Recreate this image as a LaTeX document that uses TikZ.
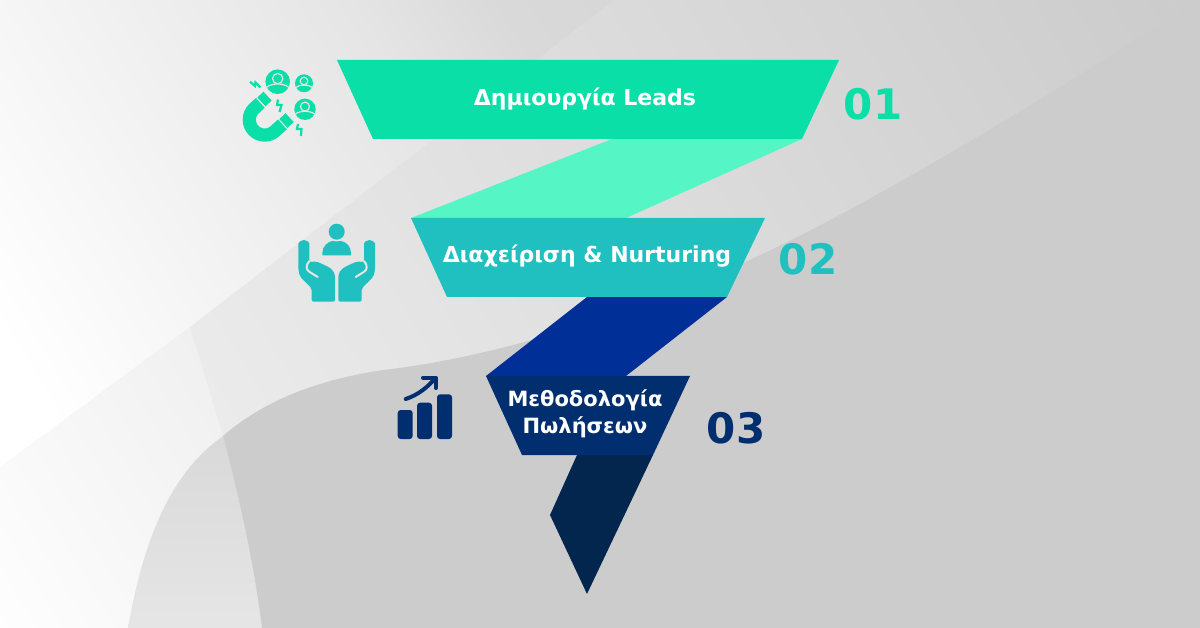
\documentclass[tikz,border=0pt]{standalone}
\usepackage{fontspec}
\setmainfont{DejaVu Sans}

\definecolor{leadgreen}{HTML}{0ADFA8}
\definecolor{leadlight}{HTML}{55F5C6}
\definecolor{careteal}{HTML}{20C0C0}
\definecolor{saleblue}{HTML}{003097}
\definecolor{salenavy}{HTML}{002E6E}
\definecolor{taildark}{HTML}{03264F}
\definecolor{gapgrey}{HTML}{E5E5E5}
\definecolor{bgone}{HTML}{E5E5E5}
\definecolor{bgtwo}{HTML}{D9D9D9}
\definecolor{bgthree}{HTML}{CCCCCC}

\pgfdeclarehorizontalshading{bgshade}{100bp}{color(0bp)=(white); color(25bp)=(white); color(44.5bp)=(bgone); color(49.9bp)=(bgtwo); color(75bp)=(bgthree); color(100bp)=(bgthree)}

\tikzset{
    bggrad/.style n args={3}{transform canvas={rotate=31},left color=#1,middle color=#2,right color=#3},
    steptext/.style={text=white,font=\bfseries\fontsize{22}{27}\selectfont,align=center},
    stepnum/.style={font=\bfseries\fontsize{42}{42}\selectfont},
    badge/.pic={
        \fill[leadgreen] (0,0) circle (1);
        \draw[gapgrey,line width=1.2pt] (0,-0.25) circle (0.42);
        \draw[gapgrey,line width=1.2pt] (-0.9,0.45) .. controls (-0.5,0.1) and (0.5,0.1) .. (0.9,0.45);
    },
    carehand/.pic={
        \fill[careteal,rounded corners=2pt] (-38.3,245.5) arc[start angle=180,end angle=360,radius=5.5]
            -- (-27.3,262) -- (-20,261.5) -- (-8,267) .. controls (-4,270) and (-1.7,273) .. (-1.7,278)
            -- (-1.7,301.7) -- (-25,301.7) -- (-25,288.3) -- (-36.7,276.7) -- (-38.3,270) -- cycle;
        \draw[gapgrey,line width=2pt,line cap=round] (-27.3,261) .. controls (-31,265) and (-31,270) .. (-27,272) -- (-19,277);
    },
}

\begin{document}
\begin{tikzpicture}[x=1pt,y=-1pt]
    \useasboundingbox (0,0) rectangle (1200,628);

    \coordinate (BandLeft) at (0,467);
    \coordinate (BandTop) at (614,0);
    \coordinate (WedgeTop) at (190,327);
    \coordinate (WedgeMid) at (223,436);
    \coordinate (WedgeEnd) at (262,628);
    \coordinate (CurveEnd) at (128,628);

    % Background
    \shade[transform canvas={rotate=31},shading=bgshade] (-170,-1500) rectangle (1030,1500);

    % Left of the wedge
    \begin{scope}
        \clip (BandLeft) -- (WedgeTop) -- (WedgeMid) -- (WedgeEnd) -- (0,628) -- cycle;
        \shade[transform canvas={rotate=31},left color=white,right color=black!6] (-350,-1500) rectangle (0,1500);
    \end{scope}

    % Right of the wedge
    \begin{scope}
        \clip (WedgeTop) -- (BandTop) -- (1200,0) -- (1200,628) -- (WedgeEnd) -- (WedgeMid) -- cycle;
        \shade[bggrad={black!7}{black!15}{black!20}] (-100,-1500) rectangle (1000,1500);
    \end{scope}

    % Below the curve, left part
    \shade[top color=black!15,bottom color=black!10] (WedgeMid) .. controls (240,500) and (255,570) .. (WedgeEnd)
        -- (CurveEnd) .. controls (145,530) and (175,470) .. (WedgeMid);

    % Below the curve, right part
    \fill[black!20] (WedgeMid) .. controls (270,395) and (330,378) .. (383,370)
        .. controls (500,357) and (640,310) .. (743,263)
        .. controls (850,215) and (1000,125) .. (1120,50)
        -- (1200,0) -- (1200,628) -- (WedgeEnd) .. controls (255,570) and (240,500) .. (WedgeMid);

    % Funnel
    \fill[leadlight] (612,139) -- (802,139) -- (626,218) -- (411,218) -- cycle;
    \fill[saleblue] (587,297) -- (727,297) -- (626,376) -- (486,376) -- cycle;
    \fill[taildark] (577,455) -- (653,455) -- (587,594) -- (550,515) -- cycle;
    \fill[leadgreen] (337,60) -- (839,60) -- (802,139) -- (373,139) -- cycle;
    \fill[careteal] (411,218) -- (765,218) -- (727,297) -- (447,297) -- cycle;
    \fill[salenavy] (486,376) -- (690,376) -- (653,455) -- (522,455) -- cycle;

    % Labels
    \node[steptext] (Leads) at (585,99) {Δημιουργία Leads};
    \node[steptext] (Nurturing) at (587,256) {Διαχείριση \& Nurturing};
    \node[steptext,font=\bfseries\fontsize{21}{27}\selectfont] (Sales) at (585,414) {Μεθοδολογία\\Πωλήσεων};

    % Numbers
    \node[stepnum,text=leadgreen] (NumA) at (873,104) {01};
    \node[stepnum,text=careteal] (NumB) at (808,259) {02};
    \node[stepnum,text=salenavy] (NumC) at (736,428) {03};

    % Magnet
    \draw[leadgreen,line width=13.2pt] (260.3,102.9) -- (253.8,108.8) arc[start angle=225,end angle=45,radius=15.4] -- (282.4,124.4);
    \draw[leadgreen,line width=12pt] (261.4,101.9) -- (267.6,96.1);
    \draw[leadgreen,line width=12pt] (283.4,123.4) -- (289.6,117.6);
    \pic[scale=12.3] at (277.7,81.7) {badge};
    \pic[scale=9] at (304,83.3) {badge};
    \pic[scale=10.7] at (305,109.3) {badge};
    \draw[leadgreen,line width=2.2pt] (250,81.7) -- (255,86) -- (255.5,82.5) -- (260.5,87.5);
    \draw[leadgreen,line width=2.2pt] (278,99.5) -- (277,105) -- (281.5,105) -- (279.5,112);
    \draw[leadgreen,line width=2.2pt] (298,124) -- (297,129) -- (301.5,129) -- (301,136);

    % Hands
    \pic at (336.7,0) {carehand};
    \pic[xscale=-1] at (336.7,0) {carehand};
    \fill[careteal] (322.3,253) .. controls (322.3,246) and (328,242) .. (332,241) -- (341,241)
        .. controls (346,242) and (351,246) .. (351,253) -- (351,255.5) -- (322.3,255.5) -- cycle;
    \fill[gapgrey] (336.7,231.7) circle (9.8);
    \fill[careteal] (336.7,231.7) circle (8);

    % Chart
    \fill[salenavy,rounded corners=3pt] (397.7,439) rectangle (412.7,410);
    \fill[salenavy,rounded corners=3pt] (417,439) rectangle (432,402.7);
    \fill[salenavy,rounded corners=3pt] (437,439) rectangle (452,394.3);
    \draw[salenavy,line width=4pt,line cap=round] (405.7,399) .. controls (418,395) and (428,387) .. (435,378.3);
    \draw[salenavy,line width=4pt,line cap=round,line join=round] (423,377.7) -- (435.7,377.7) -- (435.7,388);
\end{tikzpicture}
\end{document}
